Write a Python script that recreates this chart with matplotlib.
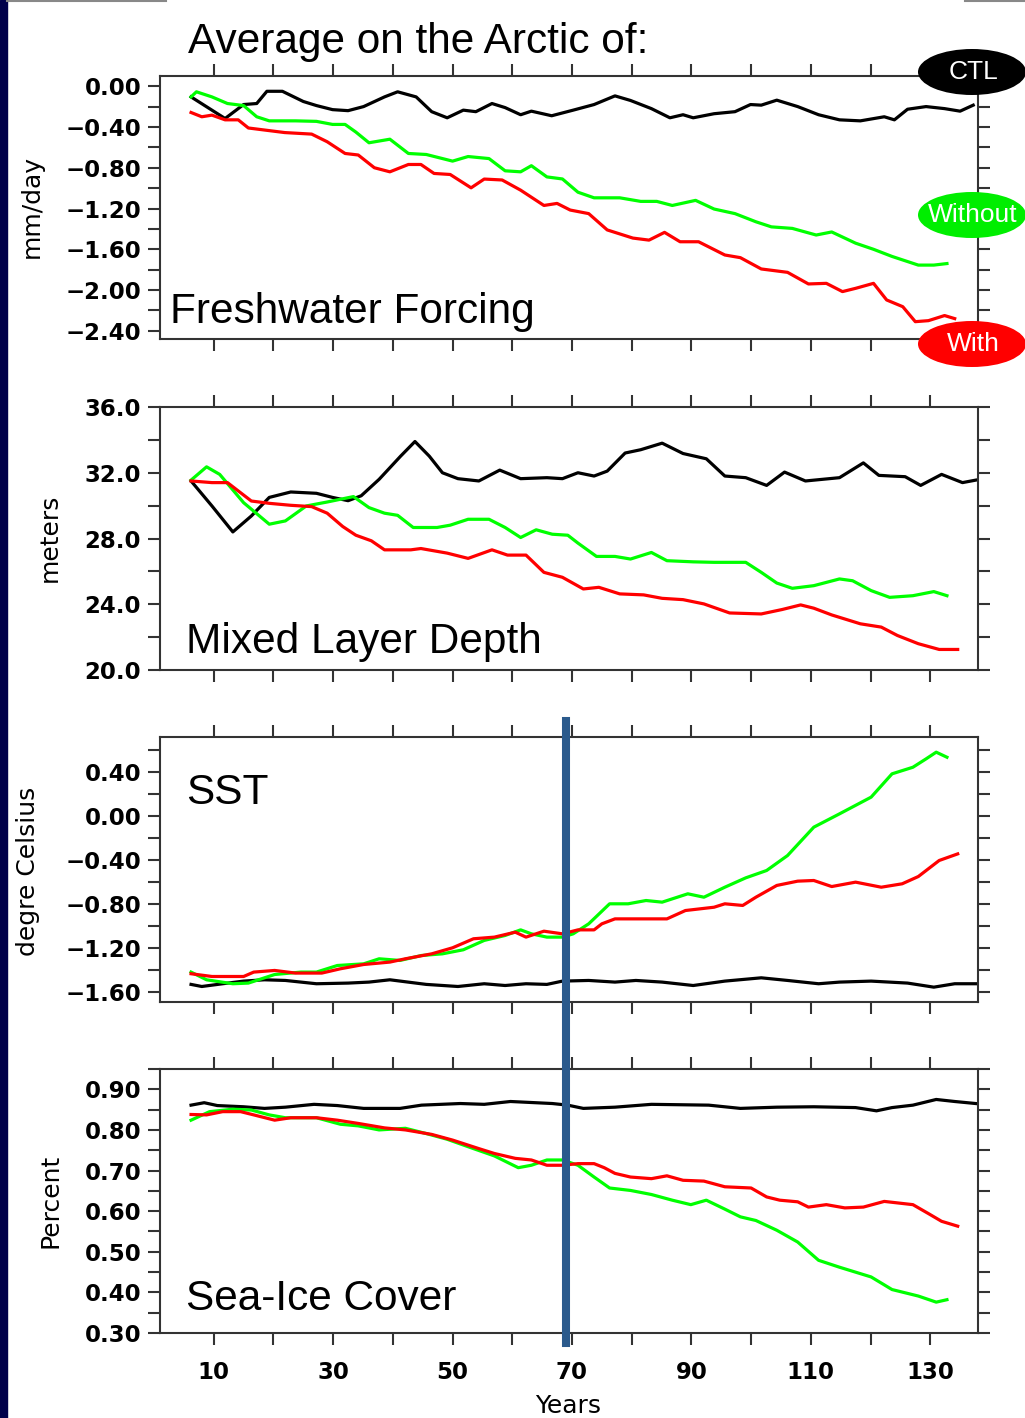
import matplotlib.pyplot as plt
from matplotlib.patches import Ellipse, Rectangle
from matplotlib.lines import Line2D

# ---- data (years, values) ----
# Freshwater forcing (mm/day)
fw_ctl_yr = [6.2, 11.9, 15.0, 17.2, 18.9, 21.5, 25.0, 27.2, 29.9, 32.5, 35.1, 38.6, 40.8, 43.9, 46.5, 49.1,
             51.8, 53.9, 56.6, 58.8, 61.4, 63.2, 66.6, 70.2, 73.7, 77.2, 79.8, 83.3, 86.4, 88.6, 90.3, 93.8,
             97.3, 99.9, 101.7, 104.3, 107.8, 111.3, 114.8, 118.3, 122.3, 124.0, 126.2, 129.3, 132.4, 135.0, 137.2]
fw_ctl = [-0.105, -0.317, -0.18, -0.17, -0.05, -0.05, -0.15, -0.19, -0.23, -0.24, -0.20, -0.105, -0.055, -0.105,
          -0.25, -0.31, -0.235, -0.25, -0.17, -0.21, -0.28, -0.245, -0.29, -0.235, -0.18, -0.095, -0.14, -0.22,
          -0.31, -0.28, -0.31, -0.27, -0.25, -0.18, -0.186, -0.137, -0.20, -0.28, -0.33, -0.34, -0.30, -0.33,
          -0.226, -0.20, -0.22, -0.245, -0.186]
fw_without_yr = [6.2, 7.1, 9.7, 12.3, 15.0, 17.2, 19.3, 23.7, 27.2, 29.9, 32.0, 33.8, 36.0, 39.5, 42.6, 45.6,
                 50.0, 52.6, 56.1, 58.8, 61.4, 63.2, 65.8, 68.4, 71.0, 73.7, 78.0, 81.5, 84.2, 86.8, 90.7, 93.8,
                 97.3, 100.8, 103.4, 106.9, 110.9, 113.5, 117.5, 120.5, 123.6, 128.0, 130.6, 132.8]
fw_without = [-0.105, -0.055, -0.105, -0.17, -0.19, -0.30, -0.34, -0.34, -0.345, -0.375, -0.375, -0.45, -0.555,
              -0.52, -0.66, -0.67, -0.735, -0.69, -0.71, -0.83, -0.84, -0.78, -0.89, -0.91, -1.04, -1.095,
              -1.095, -1.13, -1.13, -1.17, -1.12, -1.205, -1.25, -1.33, -1.38, -1.395, -1.46, -1.43, -1.54,
              -1.60, -1.67, -1.755, -1.755, -1.74]
fw_with_yr = [6.2, 8.0, 9.7, 11.9, 14.1, 15.8, 18.5, 21.9, 26.4, 29.0, 32.0, 34.2, 36.9, 39.5, 42.6, 44.7,
              46.9, 49.6, 53.1, 55.3, 58.3, 61.4, 65.3, 67.5, 69.7, 72.8, 75.9, 80.2, 82.9, 85.5, 88.1, 91.2,
              95.6, 98.2, 101.7, 106.1, 109.6, 112.6, 115.3, 117.5, 120.5, 122.7, 125.4, 127.5, 129.7, 132.4, 134.1]
fw_with = [-0.258, -0.30, -0.284, -0.33, -0.33, -0.41, -0.43, -0.455, -0.47, -0.545, -0.66, -0.675, -0.80,
           -0.84, -0.768, -0.768, -0.856, -0.866, -0.997, -0.911, -0.92, -1.02, -1.17, -1.15, -1.215, -1.25,
           -1.41, -1.49, -1.51, -1.434, -1.526, -1.526, -1.656, -1.682, -1.793, -1.826, -1.94, -1.934, -2.015,
           -1.983, -1.934, -2.097, -2.163, -2.31, -2.30, -2.25, -2.28]

# Mixed layer depth (meters)
mld_ctl_yr = [6.2, 9.7, 13.2, 16.3, 19.3, 22.9, 27.2, 29.9, 32.5, 34.7, 37.7, 41.3, 43.7, 46.1, 48.3, 50.9,
              54.4, 57.9, 61.4, 65.8, 68.4, 71.0, 73.7, 75.9, 78.9, 81.5, 85.1, 88.6, 92.5, 95.6, 99.1, 102.6,
              105.6, 109.1, 114.8, 118.8, 121.4, 125.8, 128.4, 131.9, 135.4, 137.6]
mld_ctl = [31.5, 29.98, 28.4, 29.37, 30.5, 30.83, 30.75, 30.5, 30.3, 30.6, 31.6, 33.01, 33.9, 33.01, 32.0,
           31.64, 31.5, 32.16, 31.64, 31.7, 31.64, 32.0, 31.8, 32.1, 33.2, 33.4, 33.8, 33.17, 32.85, 31.8,
           31.7, 31.23, 32.04, 31.5, 31.7, 32.6, 31.84, 31.76, 31.23, 31.9, 31.4, 31.55]
mld_without_yr = [6.2, 8.8, 11.0, 15.0, 19.3, 22.0, 25.5, 29.0, 33.4, 36.0, 38.6, 40.8, 43.4, 47.4, 49.6, 52.6,
                  56.1, 58.8, 61.4, 64.0, 66.7, 69.3, 71.0, 74.1, 77.2, 79.8, 83.3, 85.9, 90.3, 93.8, 99.1,
                  101.7, 104.3, 106.9, 110.5, 114.8, 117.0, 120.1, 123.2, 127.1, 130.6, 132.8]
mld_without = [31.55, 32.36, 31.9, 30.18, 28.87, 29.07, 29.98, 30.22, 30.55, 29.88, 29.54, 29.41, 28.67, 28.67,
               28.81, 29.17, 29.17, 28.67, 28.06, 28.53, 28.26, 28.2, 27.72, 26.91, 26.91, 26.75, 27.15, 26.65,
               26.58, 26.55, 26.55, 25.94, 25.29, 24.97, 25.13, 25.54, 25.43, 24.83, 24.42, 24.52, 24.77, 24.52]
mld_with_yr = [6.2, 9.7, 12.3, 16.3, 19.3, 22.9, 26.4, 29.0, 31.6, 33.8, 36.4, 38.6, 43.0, 44.7, 49.1, 52.6,
               56.6, 59.2, 62.3, 65.3, 68.4, 71.9, 74.5, 78.0, 82.0, 85.1, 88.6, 92.1, 96.4, 101.7, 105.2, 108.3,
               110.5, 113.5, 118.3, 121.8, 124.5, 128.0, 131.5, 134.6]
mld_with = [31.5, 31.4, 31.4, 30.28, 30.14, 30.02, 29.94, 29.54, 28.73, 28.2, 27.86, 27.31, 27.31, 27.39, 27.11,
            26.79, 27.31, 26.99, 26.99, 25.94, 25.64, 24.93, 25.03, 24.63, 24.57, 24.36, 24.28, 24.02, 23.47,
            23.41, 23.68, 23.96, 23.76, 23.35, 22.81, 22.61, 22.1, 21.6, 21.25, 21.25]

# SST (degre Celsius)
sst_ctl_yr = [6.2, 8.0, 11.5, 15.0, 18.5, 22.0, 27.2, 32.5, 36.0, 39.5, 45.6, 50.9, 55.3, 58.8, 62.3, 65.8,
              68.4, 72.8, 77.2, 80.7, 85.1, 90.3, 95.6, 101.7, 106.1, 111.3, 114.8, 120.1, 126.2, 130.6, 134.1, 137.6]
sst_ctl = [-1.53, -1.549, -1.524, -1.50, -1.488, -1.494, -1.524, -1.518, -1.509, -1.488, -1.53, -1.549, -1.524,
           -1.54, -1.524, -1.53, -1.50, -1.494, -1.509, -1.494, -1.509, -1.54, -1.50, -1.47, -1.494, -1.524,
           -1.509, -1.50, -1.518, -1.555, -1.524, -1.524]
sst_without_yr = [6.2, 8.8, 13.2, 15.8, 20.2, 24.6, 27.2, 30.7, 35.1, 37.7, 41.2, 44.8, 48.3, 51.8, 55.3, 58.8,
                  61.4, 63.2, 65.8, 68.4, 70.2, 72.8, 76.3, 79.4, 82.4, 85.1, 89.4, 92.1, 95.6, 99.1, 102.6,
                  106.1, 110.5, 114.8, 120.1, 123.6, 127.1, 129.3, 131.0, 132.8]
sst_without = [-1.418, -1.488, -1.524, -1.518, -1.44, -1.418, -1.418, -1.358, -1.343, -1.297, -1.312, -1.267,
               -1.252, -1.215, -1.13, -1.085, -1.034, -1.07, -1.10, -1.10, -1.07, -0.979, -0.797, -0.797, -0.767,
               -0.782, -0.706, -0.737, -0.646, -0.561, -0.494, -0.358, -0.10, 0.021, 0.173, 0.385, 0.445, 0.521,
               0.582, 0.536]
sst_with_yr = [6.2, 9.7, 15.0, 16.7, 20.2, 23.7, 28.1, 31.2, 35.1, 39.5, 42.1, 46.5, 50.0, 53.5, 57.0, 60.5,
               62.3, 65.3, 68.4, 71.0, 73.7, 75.0, 77.2, 85.9, 89.0, 93.8, 95.6, 98.6, 100.8, 104.3, 107.8, 110.5,
               113.5, 117.5, 121.8, 125.3, 128.0, 131.5, 134.6]
sst_with = [-1.433, -1.458, -1.458, -1.418, -1.403, -1.427, -1.427, -1.388, -1.349, -1.327, -1.297, -1.252,
            -1.197, -1.115, -1.10, -1.055, -1.10, -1.046, -1.07, -1.034, -1.034, -0.979, -0.934, -0.934, -0.858,
            -0.828, -0.797, -0.812, -0.737, -0.63, -0.591, -0.585, -0.64, -0.60, -0.646, -0.615, -0.549, -0.403,
            -0.343]

# Sea-ice cover (percent)
ice_ctl_yr = [6.2, 8.4, 10.6, 15.0, 18.5, 22.0, 26.8, 30.7, 35.1, 41.2, 44.8, 51.3, 55.3, 59.7, 66.7, 69.3,
              71.9, 77.2, 83.3, 92.9, 98.2, 104.3, 110.5, 117.5, 121.0, 123.6, 127.1, 131.0, 134.1, 137.6]
ice_ctl = [0.861, 0.867, 0.860, 0.857, 0.853, 0.856, 0.863, 0.860, 0.853, 0.853, 0.861, 0.865, 0.863, 0.870,
           0.865, 0.861, 0.853, 0.856, 0.863, 0.861, 0.853, 0.856, 0.857, 0.855, 0.847, 0.855, 0.861, 0.875,
           0.870, 0.865]
ice_without_yr = [6.2, 9.3, 13.2, 16.3, 19.3, 22.0, 27.2, 31.2, 34.2, 37.7, 42.1, 45.6, 49.1, 53.5, 57.0, 61.0,
                  63.2, 65.8, 68.4, 71.0, 73.7, 76.3, 79.8, 83.3, 86.8, 89.9, 92.5, 95.6, 98.2, 100.8, 104.3,
                  107.8, 111.3, 114.8, 120.1, 123.6, 128.0, 131.0, 132.8]
ice_without = [0.824, 0.845, 0.851, 0.849, 0.837, 0.830, 0.830, 0.814, 0.810, 0.800, 0.804, 0.791, 0.777, 0.754,
               0.736, 0.707, 0.713, 0.726, 0.726, 0.713, 0.684, 0.657, 0.651, 0.641, 0.627, 0.616, 0.627, 0.605,
               0.586, 0.577, 0.553, 0.524, 0.479, 0.462, 0.438, 0.407, 0.391, 0.376, 0.382]
ice_with_yr = [6.2, 8.8, 11.5, 14.5, 16.7, 20.2, 22.9, 27.2, 30.7, 34.2, 38.6, 42.1, 46.5, 50.0, 54.4, 57.0,
               60.5, 63.2, 65.8, 68.4, 71.0, 73.7, 75.4, 77.2, 79.8, 83.3, 85.9, 88.6, 92.1, 95.6, 100.0, 102.6,
               104.8, 107.8, 109.6, 112.6, 115.7, 118.8, 122.3, 127.1, 129.7, 131.9, 134.6]
ice_with = [0.838, 0.837, 0.845, 0.845, 0.837, 0.824, 0.830, 0.830, 0.824, 0.816, 0.805, 0.800, 0.789, 0.775,
            0.754, 0.742, 0.730, 0.726, 0.713, 0.713, 0.717, 0.717, 0.707, 0.693, 0.684, 0.680, 0.687, 0.676,
            0.674, 0.660, 0.657, 0.635, 0.627, 0.623, 0.610, 0.616, 0.608, 0.610, 0.624, 0.616, 0.594, 0.575,
            0.563]

W, H = 1025, 1418
fig = plt.figure(figsize=(W / 100, H / 100), dpi=100)
fig.patch.set_facecolor('white')

def fx(px):
    return px / W

def fy(py):
    return 1 - py / H

# dark slide strip on the left + thin top border pieces
fig.add_artist(Rectangle((0, 0), fx(7), 1, transform=fig.transFigure, color='#00004a', zorder=0))
fig.add_artist(Line2D([fx(7), fx(166)], [fy(1), fy(1)], transform=fig.transFigure, color='#888888', lw=1.5))
fig.add_artist(Line2D([fx(965), fx(1025)], [fy(1), fy(1)], transform=fig.transFigure, color='#888888', lw=1.5))

tickfont = {'family': 'DejaVu Sans', 'size': 16.5, 'weight': 'bold'}
labfont = {'family': 'DejaVu Sans', 'size': 18}
sans = 'Liberation Sans'

def make_axes(top, bottom):
    ax = fig.add_axes([fx(160), fy(bottom), fx(978) - fx(160), fy(top) - fy(bottom)])
    for s in ax.spines.values():
        s.set_color('#333333')
        s.set_linewidth(1.5)
    ax.set_xlim(1, 138)
    ax.set_xticks([10, 30, 50, 70, 90, 110, 130])
    ax.set_xticks([20, 40, 60, 80, 100, 120], minor=True)
    ax.tick_params(which='both', direction='out', length=8.5, width=1.5, color='#333333',
                   top=True, right=True, labelbottom=False, pad=5)
    return ax

def plot3(ax, ctl_x, ctl, wo_x, wo, wi_x, wi):
    ax.plot(ctl_x, ctl, color='black', lw=2.3)
    ax.plot(wo_x, wo, color='#00ff00', lw=2.3)
    ax.plot(wi_x, wi, color='#ff0000', lw=2.3)

def fmt(t, spec):
    return (spec % t).replace('-', '\u2212')

# panel 1
ax1 = make_axes(76, 339)
plot3(ax1, fw_ctl_yr, fw_ctl, fw_without_yr, fw_without, fw_with_yr, fw_with)
ax1.set_ylim(-2.48, 0.10)
ticks1 = [0.0, -0.4, -0.8, -1.2, -1.6, -2.0, -2.4]
ax1.set_yticks(ticks1)
ax1.set_yticks([-0.2, -0.6, -1.0, -1.4, -1.8, -2.2], minor=True)
ax1.set_yticklabels([fmt(t, '%.2f') for t in ticks1], fontdict=tickfont)

# panel 2
ax2 = make_axes(407, 670)
plot3(ax2, mld_ctl_yr, mld_ctl, mld_without_yr, mld_without, mld_with_yr, mld_with)
ax2.set_ylim(20, 36)
ticks2 = [20, 24, 28, 32, 36]
ax2.set_yticks(ticks2)
ax2.set_yticks([22, 26, 30, 34], minor=True)
ax2.set_yticklabels([fmt(t, '%.1f') for t in ticks2], fontdict=tickfont)

# panel 3
ax3 = make_axes(737, 1002)
plot3(ax3, sst_ctl_yr, sst_ctl, sst_without_yr, sst_without, sst_with_yr, sst_with)
ax3.set_ylim(-1.69, 0.72)
ticks3 = [0.4, 0.0, -0.4, -0.8, -1.2, -1.6]
ax3.set_yticks(ticks3)
ax3.set_yticks([0.6, 0.2, -0.2, -0.6, -1.0, -1.4], minor=True)
ax3.set_yticklabels([fmt(t, '%.2f') for t in ticks3], fontdict=tickfont)

# panel 4
ax4 = make_axes(1069, 1333)
plot3(ax4, ice_ctl_yr, ice_ctl, ice_without_yr, ice_without, ice_with_yr, ice_with)
ax4.set_ylim(0.30, 0.95)
ticks4 = [0.3, 0.4, 0.5, 0.6, 0.7, 0.8, 0.9]
ax4.set_yticks(ticks4)
ax4.set_yticks([0.35, 0.45, 0.55, 0.65, 0.75, 0.85, 0.95], minor=True)
ax4.set_yticklabels([fmt(t, '%.2f') for t in ticks4], fontdict=tickfont)
ax4.tick_params(axis='x', labelbottom=True, pad=12)
ax4.set_xticklabels(['10', '30', '50', '70', '90', '110', '130'], fontdict=tickfont)

# vertical marker at year 69 spanning the two lower panels
ax4.axvline(69, ymin=-0.038, ymax=2.32, color='#2b5a8c', lw=5.8, clip_on=False, zorder=5)

# axis labels
fig.text(fx(32), fy(206), 'mm/day', rotation=90, ha='center', va='center', fontdict=labfont)
fig.text(fx(50), fy(538), 'meters', rotation=90, ha='center', va='center', fontdict=labfont)
fig.text(fx(28), fy(871), 'degre Celsius', rotation=90, ha='center', va='center', fontdict=labfont)
fig.text(fx(50), fy(1201), 'Percent', rotation=90, ha='center', va='center', fontdict=labfont)
fig.text(fx(568), fy(1406), 'Years', ha='center', va='center', fontdict=labfont)

# titles
fig.text(fx(188), fy(53), 'Average on the Arctic of:', fontsize=30.5, family=sans, va='baseline')
fig.text(fx(170), fy(323), 'Freshwater Forcing', fontsize=30.5, family=sans, va='baseline')
fig.text(fx(186), fy(653), 'Mixed Layer Depth', fontsize=30.5, family=sans, va='baseline')
fig.text(fx(186), fy(804), 'SST', fontsize=30.5, family=sans, va='baseline')
fig.text(fx(186), fy(1310), 'Sea-Ice Cover', fontsize=30.5, family=sans, va='baseline')

# legend ovals
for label, fc, cy in [('CTL', 'black', 72), ('Without', '#00ee00', 215), ('With', '#ff0000', 344)]:
    fig.add_artist(Ellipse((fx(972), fy(cy)), fx(108), 46 / H, transform=fig.transFigure,
                           facecolor=fc, edgecolor='none', zorder=10))
    fig.text(fx(973), fy(cy), label, color='white', fontsize=19, family=sans,
             ha='center', va='center', zorder=11)

fig.savefig('out.png', dpi=100)
